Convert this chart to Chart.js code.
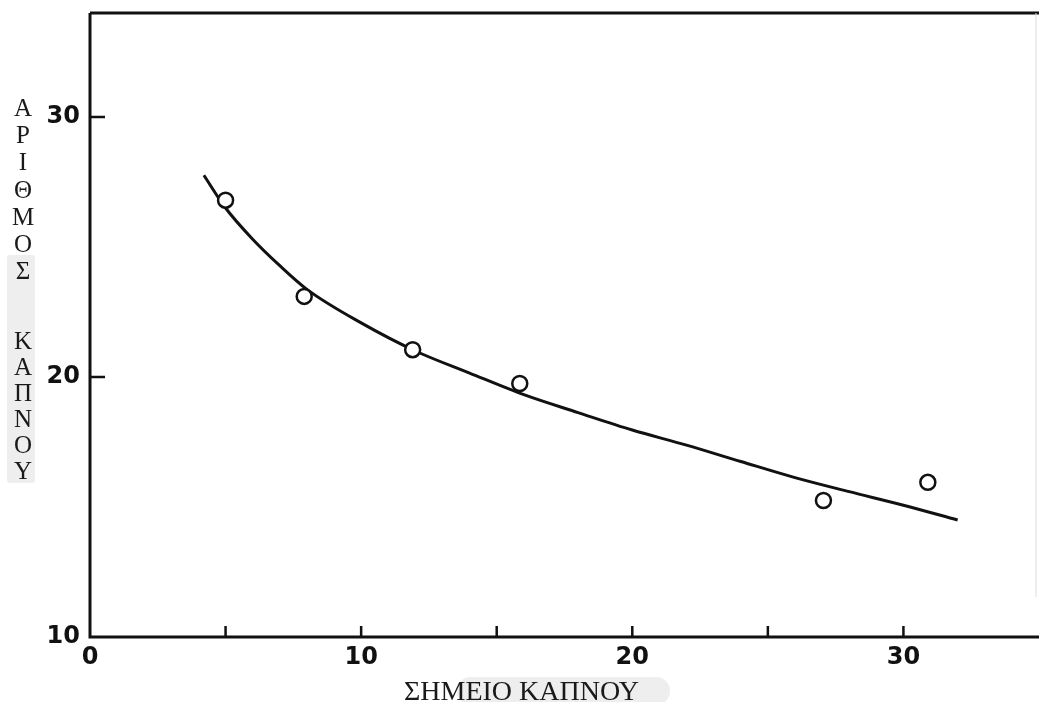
<!DOCTYPE html>
<html>
<head>
<meta charset="utf-8">
<script src="https://cdn.jsdelivr.net/npm/chart.js@4"></script>
<style>
  body { margin: 0; background: #fff; }
  #wrap { position: relative; width: 1039px; height: 702px; overflow: hidden; }
  #smokeChart { position: absolute; left: 0; top: 0; }
  .band { position: absolute; background: #eeeeee; }
  .word { position: absolute; left: 8px; width: 30px; text-align: center;
          font-family: "Liberation Serif", "DejaVu Serif", serif; font-size: 25px; color: #1a1a1a; }
  #xtitle { position: absolute; left: 404px; top: 676px; line-height: 30px; white-space: nowrap;
            font-family: "Liberation Serif", "DejaVu Serif", serif; font-size: 28px; color: #1a1a1a; }
</style>
</head>
<body>
<div id="wrap">
  <canvas id="smokeChart"></canvas>
  <div class="band" style="left:7px;top:255px;width:28px;height:228px;border-radius:3px"></div>
  <div class="band" style="left:457px;top:677px;width:213px;height:28px;border-radius:14px"></div>
  <div class="word" style="top:94px;line-height:27.2px">Α<br>Ρ<br>Ι<br>Θ<br>Μ<br>Ο<br>Σ</div>
  <div class="word" style="top:328px;line-height:26.1px">Κ<br>Α<br>Π<br>Ν<br>Ο<br>Υ</div>
  <div id="xtitle">ΣΗΜΕΙΟ ΚΑΠΝΟΥ</div>
</div>
<script>
// measured points (smoke point vs number)
const pointX = [5, 7.9, 11.9, 15.85, 27.05, 30.9];
const pointY = [26.8, 23.1, 21.05, 19.75, 15.25, 15.95];

// fitted curve
const curveX = [4.2, 5, 6, 7, 8, 10, 12, 14, 16, 18, 20, 22, 24, 26, 28, 30, 32];
const curveY = [27.76, 26.5, 25.3, 24.28, 23.37, 22.08, 21.0, 20.15, 19.32, 18.63, 17.96, 17.38, 16.75, 16.13, 15.59, 15.07, 14.5];

// axes
const xTickLabels = [0, 10, 20, 30];
const xTickMarks = [5, 10, 15, 20, 25, 30];
const yTickLabels = [10, 20, 30];
const yTickMarks = [20, 30];

const ink = '#111';
const tickFont = { family: 'DejaVu Sans', size: 24, weight: 'bold' };

// frame + inward tick marks
const framePlugin = {
    id: 'frame',
    afterDatasetsDraw(chart) {
        const { ctx, chartArea: a, scales } = chart;
        ctx.save();
        ctx.strokeStyle = ink;
        ctx.lineWidth = 3;
        ctx.beginPath();
        ctx.moveTo(a.left, a.top);
        ctx.lineTo(a.left, a.bottom);
        ctx.lineTo(a.right, a.bottom);
        ctx.moveTo(a.left, a.top);
        ctx.lineTo(a.right, a.top);
        ctx.stroke();
        ctx.lineWidth = 2.5;
        ctx.beginPath();
        xTickMarks.forEach(v => {
            const px = scales.x.getPixelForValue(v);
            ctx.moveTo(px, a.bottom);
            ctx.lineTo(px, a.bottom - 11);
        });
        yTickMarks.forEach(v => {
            const py = scales.y.getPixelForValue(v);
            ctx.moveTo(a.left, py);
            ctx.lineTo(a.left + 15, py);
        });
        ctx.stroke();
        ctx.strokeStyle = '#dcdcdc';
        ctx.lineWidth = 1;
        ctx.beginPath();
        ctx.moveTo(a.right - 3, a.top);
        ctx.lineTo(a.right - 3, a.bottom - 40);
        ctx.stroke();
        ctx.restore();
    }
};

const ctx = document.getElementById('smokeChart').getContext('2d');

new Chart(ctx, {
    type: 'scatter',
    data: {
        datasets: [
            {
                label: 'points',
                data: pointX.map((x, i) => ({ x: x, y: pointY[i] })),
                pointRadius: 7.5,
                pointBorderWidth: 2.5,
                pointBorderColor: ink,
                pointBackgroundColor: '#fff',
                showLine: false
            },
            {
                label: 'curve',
                data: curveX.map((x, i) => ({ x: x, y: curveY[i] })),
                showLine: true,
                pointRadius: 0,
                borderColor: ink,
                borderWidth: 3,
                cubicInterpolationMode: 'monotone'
            }
        ]
    },
    options: {
        responsive: true,
        maintainAspectRatio: false,
        animation: false,
        layout: { autoPadding: false, padding: { top: 13, right: 0, bottom: 0, left: 0 } },
        plugins: { legend: { display: false }, tooltip: { enabled: false } },
        scales: {
            x: {
                type: 'linear',
                min: 0,
                max: 35,
                afterBuildTicks: s => { s.ticks = xTickLabels.map(v => ({ value: v })); },
                afterFit: s => { s.height = 65; s.paddingLeft = 0; s.paddingRight = 0; },
                grid: { display: false, drawTicks: false },
                border: { display: false },
                ticks: { color: ink, font: tickFont, padding: 6, maxRotation: 0 }
            },
            y: {
                type: 'linear',
                min: 10,
                max: 34,
                afterBuildTicks: s => { s.ticks = yTickLabels.map(v => ({ value: v })); },
                afterFit: s => { s.width = 90; s.paddingTop = 0; s.paddingBottom = 0; },
                grid: { display: false, drawTicks: false },
                border: { display: false },
                ticks: { color: ink, font: tickFont, padding: 10 }
            }
        }
    },
    plugins: [framePlugin]
});
</script>
</body>
</html>
